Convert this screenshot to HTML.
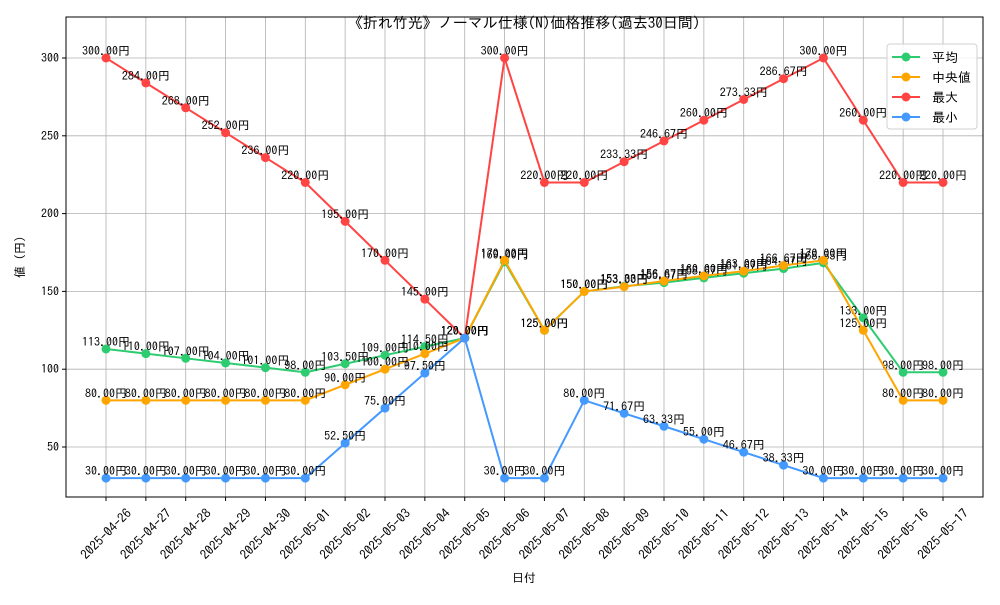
<!DOCTYPE html>
<html><head><meta charset="utf-8"><style>
body{margin:0;background:#fff}
svg text{font-family:"IPAGothic","Liberation Sans","Noto Sans CJK JP",sans-serif;}
</style></head><body>
<svg id="c" width="1000" height="600"></svg>
<script>
const dates=["2025-04-26","2025-04-27","2025-04-28","2025-04-29","2025-04-30","2025-05-01","2025-05-02","2025-05-03","2025-05-04","2025-05-05","2025-05-06","2025-05-07","2025-05-08","2025-05-09","2025-05-10","2025-05-11","2025-05-12","2025-05-13","2025-05-14","2025-05-15","2025-05-16","2025-05-17"];
const avgVals=[113,110,107,104,101,98,103.5,109,114.5,120,169,125,150,153.33,155.67,158.67,161.67,164.67,168.33,133,98,98];
const medVals=[80,80,80,80,80,80,90,100,110,120,170,125,150,153,156.67,160,163,166.67,170,125,80,80];
const maxVals=[300,284,268,252,236,220,195,170,145,120,300,220,220,233.33,246.67,260,273.33,286.67,300,260,220,220];
const minVals=[30,30,30,30,30,30,52.5,75,97.5,120,30,30,80,71.67,63.33,55,46.67,38.33,30,30,30,30];
const yTicks=[50,100,150,200,250,300];
const seriesNames=["平均","中央値","最大","最小"];
const NS="http://www.w3.org/2000/svg";
const svg=document.getElementById('c');
const L=66,R=983,T=17,B=497;
const n=dates.length;
const x=i=>106+i*(943-106)/(n-1);
const y=v=>58+(300-v)*(389/250);
function mk(tag,attrs,parent){const e=document.createElementNS(NS,tag);for(const k in attrs)e.setAttribute(k,attrs[k]);(parent||svg).appendChild(e);return e;}
const grid=mk('g',{});


dates.forEach((d,i)=>{mk('line',{x1:x(i),x2:x(i),y1:T,y2:B,stroke:'#b0b0b0','stroke-width':0.8},grid);});
yTicks.forEach(v=>{mk('line',{x1:L,x2:R,y1:y(v),y2:y(v),stroke:'#b0b0b0','stroke-width':0.8},grid);});
const xt=mk('g',{});


dates.forEach((d,i)=>{
 mk('line',{x1:x(i),x2:x(i),y1:B,y2:B+4,stroke:'#000'},xt);
 const t=mk('text',{x:x(i),y:534,'font-size':13,'text-anchor':'middle','dominant-baseline':'central',transform:`rotate(-45 ${x(i)} 534)`},xt);
 t.textContent=d;
});
const yt=mk('g',{});


yTicks.forEach(v=>{
 mk('line',{x1:L-4,x2:L,y1:y(v),y2:y(v),stroke:'#000'},yt);
 const t=mk('text',{x:L-7,y:y(v)+4,'font-size':12,'text-anchor':'end'},yt);t.textContent=v;
});
const series=[[avgVals,'#2ecc71','avg'],[medVals,'#ffa500','median'],[maxVals,'#ff4444','max'],[minVals,'#4499ff','min']];
series.forEach(([vals,col,nm])=>{
 const g=mk('g',{});
 
 
 mk('polyline',{points:vals.map((v,i)=>x(i)+','+y(v)).join(' '),fill:'none',stroke:col,'stroke-width':2},g);
 vals.forEach((v,i)=>{
  const c=mk('circle',{cx:x(i),cy:y(v),r:4.5,fill:col},g);
  
  
 });
 vals.forEach((v,i)=>{
  const t=mk('text',{x:x(i),y:y(v)-3,'font-size':12,'text-anchor':'middle',fill:'#000'},g);
  
  
  t.textContent=v.toFixed(2)+'円';
 });
});
const fr=mk('rect',{x:L,y:T,width:R-L,height:B-T,fill:'none',stroke:'#000','stroke-width':1});


const lg=mk('g',{});


mk('rect',{x:887,y:44,width:90,height:85,rx:3,fill:'#fff','fill-opacity':0.85,stroke:'#d0d0d0'},lg);
series.forEach(([vals,col,nm],k)=>{
 const yy=57+k*20;
 const e=mk('g',{},lg);
 
 
 mk('line',{x1:892,x2:920,y1:yy,y2:yy,stroke:col,'stroke-width':2},e);
 mk('circle',{cx:906,cy:yy,r:4.5,fill:col},e);
 const t=mk('text',{x:932,y:yy+5,'font-size':13},e);t.textContent=seriesNames[k];
});
const tt=mk('text',{x:524,y:28,'font-size':15,'text-anchor':'middle'});


tt.textContent='《折れ竹光》ノーマル仕様(N)価格推移(過去30日間)';
const xl=mk('text',{x:524,y:582,'font-size':12,'text-anchor':'middle'});


xl.textContent='日付';
const yl=mk('text',{x:24,y:257,'font-size':12,'text-anchor':'middle',transform:'rotate(-90 24 257)'});


yl.textContent='値 (円)';
</script>
</body></html>
